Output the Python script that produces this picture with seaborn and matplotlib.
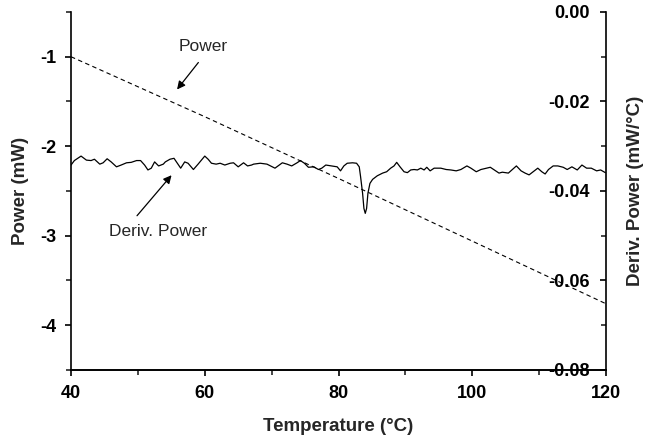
import matplotlib
matplotlib.use("Agg")
import matplotlib.pyplot as plt
import seaborn as sns

# Power (left axis), dashed straight-ish line
power_temp = [40, 60, 80, 100, 120]
power_mw = [-1.00, -1.67, -2.36, -3.06, -3.76]

# Derivative of power (right axis)
deriv_temp = [
    40.0, 40.5, 41.5, 42.3, 43.0, 43.5, 44.3, 44.8, 45.4, 46.0, 46.8, 47.5, 48.3, 49.0, 49.8, 50.4, 51.0, 51.5, 52.0, 52.5, 53.1, 53.8,
    54.1, 54.8, 55.4, 56.0, 56.4, 57.0, 57.5, 58.3, 59.0, 59.5, 60.0, 60.5, 61.0, 61.7, 62.3, 63.0, 63.8, 64.3, 65.0, 65.8, 66.4, 67.0,
    67.3, 68.3, 69.3, 70.5, 71.6, 72.3, 73.0, 73.8, 74.3, 74.9, 75.5, 76.3, 77.0, 77.5, 78.1, 79.0, 79.8, 80.3,
    80.8, 81.3, 82.1, 82.7, 83.1, 83.3, 83.6, 83.8, 84.0, 84.2, 84.4, 84.7, 85.1, 85.8, 86.6, 87.2, 87.8, 88.3, 88.7, 89.2, 89.8,
    90.3, 90.8, 91.3, 91.8, 92.3, 92.8, 93.2, 93.7, 94.3, 95.0,
    95.3, 96.1, 96.8, 97.6, 98.3, 99.2, 99.8, 100.6, 101.3, 102.1, 102.7, 103.3, 104.0, 104.5, 105.4, 106.0, 106.6, 107.3, 107.9, 108.5,
    109.1, 109.8, 110.4, 110.9, 111.4, 112.1, 112.8, 113.6, 114.2, 114.9, 115.7, 116.4, 117.1, 117.8, 118.6, 119.2, 119.9,
]
deriv_power = [
    -0.0342, -0.0332, -0.0322, -0.0331, -0.0332, -0.0329, -0.0340, -0.0337, -0.0328, -0.0335, -0.0346,
    -0.0342, -0.0337, -0.0336, -0.0332, -0.0332, -0.0342, -0.0353, -0.0349, -0.0335, -0.0344, -0.0340,
    -0.0335, -0.0329, -0.0327, -0.0340, -0.0349, -0.0335, -0.0338, -0.0352, -0.0340, -0.0331, -0.0322,
    -0.0329, -0.0338, -0.0340, -0.0338, -0.0342, -0.0338, -0.0337, -0.0346, -0.0337, -0.0344, -0.0342,
    -0.0340, -0.0338, -0.0340, -0.0349, -0.0337, -0.0340, -0.0344, -0.0337, -0.0332, -0.0338, -0.0347,
    -0.0346, -0.0352, -0.0349, -0.0342, -0.0344, -0.0346, -0.0355,
    -0.0344, -0.0338, -0.0337, -0.0338, -0.0346, -0.0368, -0.0405, -0.0439, -0.0450, -0.0439, -0.0405,
    -0.0383, -0.0374, -0.0366, -0.0360, -0.0357, -0.0349, -0.0344, -0.0336, -0.0346, -0.0357, -0.0359,
    -0.0353, -0.0352, -0.0353, -0.0349, -0.0353, -0.0347, -0.0355, -0.0349, -0.0349,
    -0.0349, -0.0352, -0.0353, -0.0355, -0.0352, -0.0344, -0.0349, -0.0357, -0.0352, -0.0349, -0.0347,
    -0.0353, -0.0360, -0.0358, -0.0360, -0.0352, -0.0344, -0.0355, -0.0360, -0.0364,
    -0.0357, -0.0349, -0.0357, -0.0362, -0.0352, -0.0344, -0.0344, -0.0347, -0.0352, -0.0346, -0.0353,
    -0.0342, -0.0349, -0.0349, -0.0355, -0.0353, -0.0359,
]

x_ticks = [40, 60, 80, 100, 120]
left_ticks = [-1, -2, -3, -4]
right_ticks = [0.00, -0.02, -0.04, -0.06, -0.08]

sns.set_style("ticks")
plt.rcParams["font.family"] = ["Liberation Sans", "DejaVu Sans"]
plt.rcParams["axes.unicode_minus"] = False

fig = plt.figure(figsize=(6.54, 4.36), dpi=100)
ax = fig.add_axes([0.1086, 0.1514, 0.818, 0.8211])
ax2 = ax.twinx()

sns.lineplot(x=power_temp, y=power_mw, ax=ax, color="black",
             linewidth=0.8, linestyle=(0, (4, 3)))
sns.lineplot(x=deriv_temp, y=deriv_power, ax=ax2, color="black",
             linewidth=0.9)

ax.set_xlim(40, 120)
ax.set_ylim(-4.5, -0.5)
ax2.set_ylim(-0.08, 0.0)

ax.set_xticks(x_ticks)
ax.set_xticks([50, 70, 90, 110], minor=True)
ax.set_yticks(left_ticks)
ax.set_yticks([-0.5, -1.5, -2.5, -3.5, -4.5], minor=True)
ax2.set_yticks(right_ticks)
ax2.set_yticklabels([f"{v:.2f}" for v in right_ticks])
ax2.set_yticks([-0.01, -0.03, -0.05, -0.07], minor=True)

for a in (ax, ax2):
    a.spines["top"].set_visible(False)
    for s in a.spines.values():
        s.set_linewidth(1.2)
        s.set_color("black")

ax.spines["right"].set_visible(False)
ax2.spines["left"].set_visible(False)

ax.tick_params(axis="both", which="major", direction="out", length=4.5, width=1.2,
               labelsize=13, pad=6, colors="black")
ax.tick_params(axis="both", which="minor", direction="out", length=3.5, width=1.2)
ax2.tick_params(axis="y", which="major", direction="in", length=4.5, width=1.2,
                labelsize=13, pad=-11.5, colors="black")
ax2.tick_params(axis="y", which="minor", direction="in", length=3.5, width=1.2)
plt.setp(ax2.get_yticklabels(), ha="right")

for lab in ax.get_xticklabels() + ax.get_yticklabels() + ax2.get_yticklabels():
    lab.set_fontweight("bold")

ax.set_xlabel("Temperature (\u00b0C)", fontsize=13.5, fontweight="bold", labelpad=12)
ax.set_ylabel("Power (mW)", fontsize=13.5, fontweight="bold", labelpad=8)
ax2.set_ylabel("Deriv. Power (mW/\u00b0C)", fontsize=13.5, fontweight="bold", labelpad=12)

# annotations
ax.text(59.7, -0.89, "Power", fontsize=12.5, ha="center", va="center")
ax.annotate("", xy=(55.6, -1.39), xytext=(59.3, -1.04),
            arrowprops=dict(arrowstyle="-|>", color="black", lw=0.9, mutation_scale=12))
ax.text(53.0, -2.95, "Deriv. Power", fontsize=12.5, ha="center", va="center")
ax.annotate("", xy=(55.3, -2.30), xytext=(49.6, -2.80),
            arrowprops=dict(arrowstyle="-|>", color="black", lw=0.9, mutation_scale=12))

fig.savefig("out.png", dpi=100)
